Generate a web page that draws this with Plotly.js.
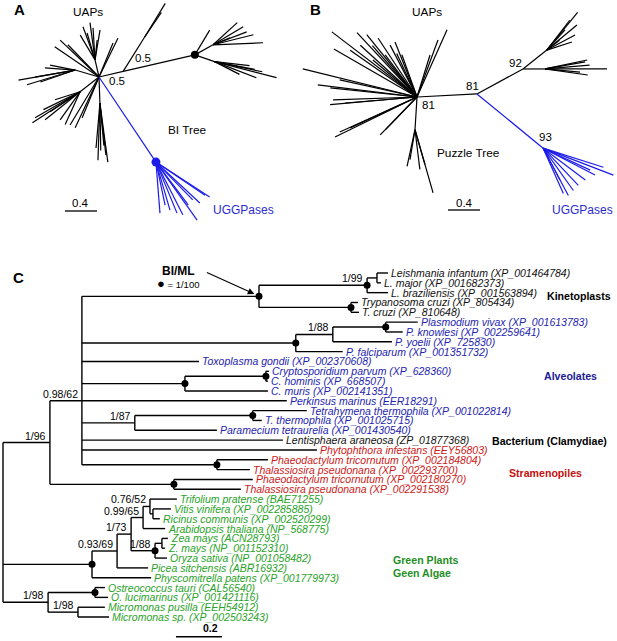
<!DOCTYPE html>
<html><head><meta charset="utf-8">
<script src="https://cdn.plot.ly/plotly-3.0.1.min.js"></script>
<style>html,body{margin:0;padding:0;background:#fff}#chart{width:617px;height:641px}</style>
</head><body><div id="chart"></div>
<script>
// ---------------- Panel A: BI tree (unrooted), branch length units, angle in degrees ----------------
const aFrom = ['hub','M','M','Mu','Mu','R','S1','S1','S1','S1','S1','S1','R','R','S2','S2','S2','S2','S2','S2',
 'hub','B','B','B','B','B','B','B','B','B','B','B',
 'hub','U','U','U','U','U','U','U',
 'hub','hub','hub','hub','hub',
 'hub','L','L','L','L','L','L',
 'hub','LL','LL','LL','LL','LL','LL','LL','LL',
 'hub','hub','hub',
 'hub','D','D','D','D','D','D'];
const aTo = ['M','R','Mu','','','S1','','','','','','','','S2','','','','','','',
 'B','','','','','','','','','','','',
 'U','','','','','','','',
 '','','','','',
 'L','','','','','','',
 'LL','','','','','','','','',
 '','','',
 'D','','','','','',''];
const aLen = [0.31,0.92,0.50,0.50,0.38,0.26,0.41,0.625,0.52,0.45,0.44,0.23,0.36,0.26,0.80,0.56,0.61,0.44,0.35,0.51,
 1.28,0.80,0.75,0.89,0.69,0.64,0.67,0.66,0.625,0.74,0.55,0.74,
 0.22,0.47,0.44,0.38,0.35,0.40,0.25,0.36,
 0.54,0.46,0.67,0.67,0.56,
 0.31,0.72,0.63,0.51,0.38,0.32,0.46,
 0.30,0.71,0.65,0.51,0.45,0.33,0.43,0.45,0.56,
 0.70,0.70,0.55,
 0.33,0.71,0.74,0.59,0.53,0.56,0.65];
const aAng = [13,13,58,58.5,56,29,42.5,2.3,14,21,31,22,59,-19,-14.5,-21,-12,-6.5,-27,-11,
 -56.2,-33,-43,-54.7,-67.6,-85.5,-53,-45.8,-73.7,-63,-78,-34,
 103,97.7,110,80.5,106.5,93.6,84,121,
 64,67.6,136.5,145.7,134,
 163.7,190,197,190,176,169,199,
 218,212.9,210,206,213.7,197.7,234.5,245.5,218.7,
 238.9,244.8,247.5,
 272,268,277.7,271,275.4,265,276.6];
const aBlueClade = ['B'];
const aDotNodes = ['R','B'];
const aSupport = ['0.5','0.5'];

// ---------------- Panel B: Puzzle tree ----------------
const bFrom = ['hub','N81','N92','Bu','Bu','Bu','Bu','Bu','Bu','Bu','N92','Br','Br','Br','Br','Br','Br',
 'N81','B','B','B','B','B','B','B','B','B','B',
 'hub','hub','hub','hub','hub','hub','hub','hub','hub','hub','hub','hub','hub','hub',
 'hub','hub','hub',
 'hub','hub','hub','hub',
 'hub','hub','hub','hub','hub','hub','hub','hub',
 'hub','D','D','D','D','D'];
const bTo = ['N81','N92','Bu','','','','','','','','Br','','','','','','',
 'B','','','','','','','','','','',
 '','','','','','','','','','','','','','',
 '','','',
 '','','','',
 '','','','','','','','',
 'D','','','','',''];
const bLen = [0.75,0.655,0.38,0.61,0.49,0.40,0.33,0.47,0.34,0.20,0.275,0.775,0.54,0.51,0.56,0.44,0.54,
 1.07,0.94,0.79,0.67,0.62,0.66,0.64,0.73,0.65,0.65,0.45,
 1.34,1.0,0.88,0.73,0.74,0.56,1.02,0.96,0.66,0.72,1.2,1.1,0.85,0.6,
 0.92,0.76,0.55,
 1.47,1.25,1.09,0.99,
 1.09,1.05,0.9,1.14,1.06,0.92,0.66,0.57,
 0.41,0.82,0.47,0.38,0.5,0.45];
const bAng = [2.9,28.5,38.4,50.8,39.8,28,17.7,52.5,48,37.6,0,0,-8,10,5,-5,12,
 -39.3,-21,-17.6,-62,-66,-37,-46.6,-27.4,-54.5,-25,-62,
 142.6,128.9,123.5,117.4,111.8,109.7,145,137.6,127,140,150,133,131,115,
 65.9,69.8,72.8,
 166.2,173,174,167.5,
 185,182,184.8,206,204.4,204.8,225.8,226,
 266.5,286,257.8,260.5,277,286];
const bBlueClade = ['B'];
const bSupport = ['81','81','92','93'];

// ---------------- Panel C: rooted BI/ML tree ----------------
const cParent = [-1,0,1,2,3,4,5,5,4,3,9,9,2,12,13,14,14,13,12,2,2,20,21,21,20,2,2,26,27,27,26,2,2,2,33,33,1,36,36,
 0,39,40,41,42,43,43,45,45,42,41,49,50,50,49,40,39,0,56,57,57,56,60,60];
const cLen = [0,0.204,0.139,0.770,0.470,0.043,0.048,0.017,0.091,0.400,0.030,0.035,0.930,0.161,0.230,0.139,0.074,0.257,0.204,
 0.509,0.448,0.352,0.013,0.009,0.361,0.891,0.230,0.513,0.235,0.039,0.357,0.874,1.022,0.587,0.222,0.143,0.539,0.343,0.291,
 0.387,0.109,0.061,0.052,0.030,0.117,0.013,0.078,0.030,0.096,0.104,0.030,0.026,0.013,0.052,0.135,0.257,
 0.196,0.204,0.043,0.057,0.130,0.117,0.135];
const cName = ['','','','','','',
 'Leishmania infantum (XP_001464784)','L. major (XP_001682373)','L. braziliensis (XP_001563894)','',
 'Trypanosoma cruzi (XP_805434)','T. cruzi (XP_810648)','','','',
 'Plasmodium vivax (XP_001613783)','P. knowlesi (XP_002259641)','P. yoelii (XP_725830)','P. falciparum (XP_001351732)',
 'Toxoplasma gondii (XP_002370608)','','','Cryptosporidium parvum (XP_628360)','C. hominis (XP_668507)','C. muris (XP_002141351)',
 'Perkinsus marinus (EER18291)','','','Tetrahymena thermophila (XP_001022814)','T. thermophila (XP_001025715)',
 'Paramecium tetraurelia (XP_001430540)','Lentisphaera araneosa (ZP_01877368)','Phytophthora infestans (EEY56803)','',
 'Phaeodactylum tricornutum (XP_002184804)','Thalassiosira pseudonana (XP_002293700)','',
 'Phaeodactylum tricornutum (XP_002180270)','Thalassiosira pseudonana (XP_002291538)',
 '','','','','','Trifolium pratense (BAE71255)','','Vitis vinifera (XP_002285885)','Ricinus communis (XP_002520299)',
 'Arabidopsis thaliana (NP_568775)','','','Zea mays (ACN28793)','Z. mays (NP_001152310)','Oryza sativa (NP_001058482)',
 'Picea sitchensis (ABR16932)','Physcomitrella patens (XP_001779973)','','','Ostreococcus tauri (CAL56540)',
 'O. lucimarinus (XP_001421116)','','Micromonas pusilla (EEH54912)','Micromonas sp. (XP_002503243)'];
const cGroup = ['','','','','','','k','k','k','','k','k','','','','b','b','b','b','b','','','b','b','b','b','','','b','b','b','k','r','',
 'r','r','','r','r','','','','','','g','','g','g','g','','','g','g','g','g','g','','','g','g','','g','g'];
const cSupport = ['','1/96','0.98/62','','1/99','','','','','','','','','1/88','','','','','','','','','','','','','1/87','','','','','','','','','','','','',
 '','0.93/69','1/73','0.99/65','0.76/52','','','','','','1/88','','','','','','','1/98','','','','1/98','',''];
const cDotNodes = [3,4,9,12,14,20,21,27,33,36,39,49,57];
const cClades = ['Kinetoplasts','Alveolates','Bacterium (Clamydiae)','Stramenopiles','Green Plants','Geen Algae'];
const cCladeColor = ['#000000','#1a1a9a','#000000','#c41010','#1f8f1f','#1f8f1f'];
const cScale = 0.2, abScale = 0.4;

const BLUE = '#1c1ce8', BLUETXT = '#2b2bd0';
const groupColor = {k:'#111111', b:'#2424b0', r:'#cc1a1a', g:'#28a228'};
const FONT = 'Arial, "Liberation Sans", sans-serif';

function unrooted(from,to,len,ang,blueSet){
  const pos={hub:[0,0]}; const k={x:[],y:[]}, b={x:[],y:[]};
  for(let i=0;i<from.length;i++){
    const p=pos[from[i]], r=ang[i]*Math.PI/180;
    const q=[p[0]+len[i]*Math.cos(r), p[1]+len[i]*Math.sin(r)];
    if(to[i]) pos[to[i]]=q;
    const s=(blueSet.includes(from[i])||blueSet.includes(to[i]))?b:k;
    s.x.push(p[0],q[0],null); s.y.push(p[1],q[1],null);
  }
  return {pos,k,b};
}
const TA = unrooted(aFrom,aTo,aLen,aAng,aBlueClade);
const TB = unrooted(bFrom,bTo,bLen,bAng,bBlueClade);

// rooted tree layout
const n=cParent.length, kids=[...Array(n)].map(()=>[]);
cParent.forEach((p,i)=>{ if(p>=0) kids[p].push(i); });
const cx=new Array(n).fill(0), cy=new Array(n).fill(0);
let leafIdx=0;
(function walk(i){
  if(cParent[i]>=0) cx[i]=cx[cParent[i]]+cLen[i];
  if(kids[i].length===0){ cy[i]=leafIdx++; return; }
  kids[i].forEach(walk);
  const ch=kids[i];
  if(ch.length>2 && ch.length%2===1) cy[i]=cy[ch[(ch.length-1)/2]];
  else cy[i]=(cy[ch[0]]+cy[ch[ch.length-1]])/2;
})(0);
const cl={x:[],y:[]};
for(let i=0;i<n;i++){
  if(cParent[i]>=0){ cl.x.push(cx[cParent[i]],cx[i],null); cl.y.push(cy[i],cy[i],null); }
  if(kids[i].length){ const ys=kids[i].map(j=>cy[j]); cl.x.push(cx[i],cx[i],null); cl.y.push(Math.min(...ys),Math.max(...ys),null); }
}

const traces=[
 {x:TA.k.x,y:TA.k.y,xaxis:'x',yaxis:'y',mode:'lines',line:{color:'#000',width:1.2},hoverinfo:'skip'},
 {x:TA.b.x,y:TA.b.y,xaxis:'x',yaxis:'y',mode:'lines',line:{color:BLUE,width:1.2},hoverinfo:'skip'},
 {x:aDotNodes.map(d=>TA.pos[d][0]),y:aDotNodes.map(d=>TA.pos[d][1]),xaxis:'x',yaxis:'y',mode:'markers',
  marker:{size:[8,9],color:['#000',BLUE],opacity:1,line:{width:0}},hoverinfo:'skip'},
 {x:[-0.425,-0.425+abScale],y:[-1.675,-1.675],xaxis:'x',yaxis:'y',mode:'lines',line:{color:'#000',width:1.3}},
 {x:TB.k.x,y:TB.k.y,xaxis:'x2',yaxis:'y2',mode:'lines',line:{color:'#000',width:1.2},hoverinfo:'skip'},
 {x:TB.b.x,y:TB.b.y,xaxis:'x2',yaxis:'y2',mode:'lines',line:{color:BLUE,width:1.2},hoverinfo:'skip'},
 {x:[0.3875,0.3875+abScale],y:[-1.4125,-1.4125],xaxis:'x2',yaxis:'y2',mode:'lines',line:{color:'#000',width:1.3}},
 {x:cl.x,y:cl.y,xaxis:'x3',yaxis:'y3',mode:'lines',line:{color:'#000',width:1.4},hoverinfo:'skip'},
 {x:cDotNodes.map(i=>cx[i]),y:cDotNodes.map(i=>cy[i]),xaxis:'x3',yaxis:'y3',mode:'markers',marker:{size:7,color:'#000',opacity:1,line:{width:0}},hoverinfo:'skip'},
 {x:[0.752,0.752+cScale],y:[37.0,37.0],xaxis:'x3',yaxis:'y3',mode:'lines',line:{color:'#000',width:1.4}}
];

const ann=[];
function A(text,x,y,ref,o){ ann.push(Object.assign({text,x,y,xref:'x'+ref,yref:'y'+ref,showarrow:false,
  font:{family:FONT,size:11.5,color:'#000'}},o||{})); }
// panel letters
[['A',12],['B',308],['C',11]].forEach(([t,px],i)=>ann.push({text:'<b>'+t+'</b>',xref:'paper',yref:'paper',
  x:px/617,y:1-(i<2?9:278)/641,xanchor:'left',yanchor:'middle',showarrow:false,font:{family:FONT,size:15,color:'#000'}}));
// panel A texts
A('UAPs',-0.1375,0.8125,'',{font:{family:FONT,size:11.8,color:'#000'}});
A(aSupport[0],0.55,0.2375,'');
A(aSupport[1],0.225,-0.05,'');
A('BI Tree',1.1,-0.6625,'',{font:{family:FONT,size:11.8,color:'#000'}});
A('UGGPases',1.8,-1.6625,'',{font:{family:FONT,size:12,color:BLUETXT}});
A('0.4',-0.2375,-1.575,'');
// panel B texts
A('UAPs',0.125,1.0625,'2',{font:{family:FONT,size:11.8,color:'#000'}});
A(bSupport[0],0.6875,0.1375,'2');
A(bSupport[1],0.1375,-0.1,'2');
A(bSupport[2],1.225,0.425,'2');
A(bSupport[3],1.6,-0.5,'2');
A('Puzzle Tree',0.6375,-0.7,'2',{font:{family:FONT,size:11.8,color:'#000'}});
A('UGGPases',2.0625,-1.4125,'2',{font:{family:FONT,size:12,color:BLUETXT}});
A('0.4',0.5875,-1.325,'2');
// panel C: leaf labels
for(let i=0;i<n;i++){
  if(cName[i]) A('<i>'+cName[i]+'</i>',cx[i],cy[i],'3',{xanchor:'left',yanchor:'middle',xshift:1,
     font:{family:FONT,size:10.5,color:groupColor[cGroup[i]]}});
  if(cSupport[i]) A(cSupport[i],cx[i],cy[i],'3',{xanchor:'right',yanchor:'bottom',xshift:-2,yshift:-1,
     font:{family:FONT,size:10.5,color:'#000'}});
}
// clade labels
const cladePos=[[2.357,2.34],[2.343,10.48],[2.117,17.09],[2.191,20.35],[1.687,29.2],[1.687,30.55]];
cClades.forEach((t,i)=>A('<b>'+t+'</b>',cladePos[i][0],cladePos[i][1],'3',{xanchor:'left',yanchor:'middle',
  font:{family:FONT,size:10.6,color:cCladeColor[i]}}));
A('<b>BI/ML</b>',0.683,-0.2,'3',{xanchor:'left',yanchor:'middle',font:{family:FONT,size:12,color:'#000'}});
A('<span style="font-size:13px">●</span> = 1/100',0.66,1.02,'3',{xanchor:'left',yanchor:'middle',font:{family:FONT,size:9.5,color:'#000'}});
A('<b>0.2</b>',0.904,36.1,'3',{font:{family:FONT,size:10.5,color:'#000'}});
// arrow to the BI/ML node
ann.push({text:'',x:cx[3]-0.02,y:cy[3]-0.25,xref:'x3',yref:'y3',showarrow:true,ax:-49,ay:-22,
  arrowhead:2,arrowsize:1.1,arrowwidth:1.2,arrowcolor:'#000'});

const layout={width:617,height:641,margin:{l:0,r:0,t:0,b:0},paper_bgcolor:'#fff',plot_bgcolor:'rgba(0,0,0,0)',
 showlegend:false,hovermode:false,
 xaxis:{domain:[0,300/617],range:[-1.2375,2.5125],visible:false,anchor:'y'},
 yaxis:{domain:[1-225/641,1],range:[-1.85,0.9625],visible:false,anchor:'x'},
 xaxis2:{domain:[300/617,1],range:[-1.4625,2.5],visible:false,anchor:'y2'},
 yaxis2:{domain:[1-225/641,1],range:[-1.6,1.2125],visible:false,anchor:'x2'},
 xaxis3:{domain:[0,1],range:[-3/230,614/230],visible:false,anchor:'y3'},
 yaxis3:{domain:[0,1],range:[(641-273)/9.83,-273/9.83],visible:false,anchor:'x3'},
 annotations:ann};
Plotly.newPlot('chart',traces,layout,{staticPlot:true,displayModeBar:false});
</script></body></html>
